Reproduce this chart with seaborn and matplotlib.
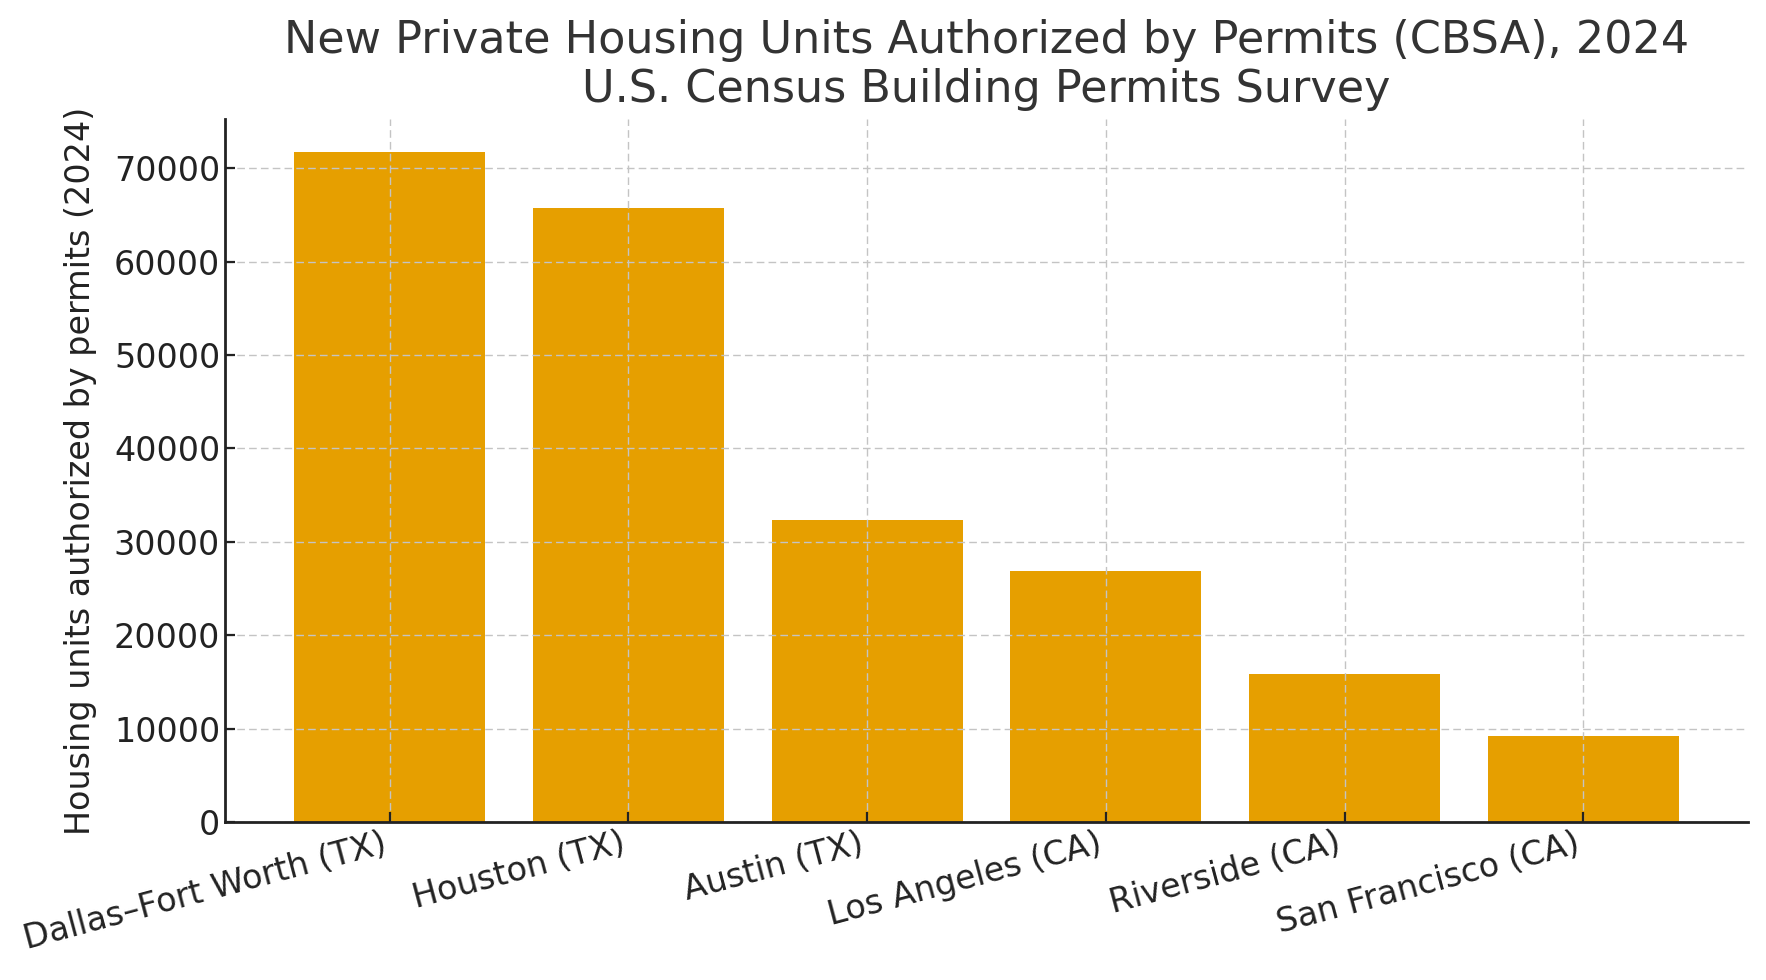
import matplotlib
matplotlib.use("Agg")
import matplotlib.pyplot as plt
import seaborn as sns
import pandas as pd

# 2024 building permits by metro area (CBSA)
metros = ["Dallas–Fort Worth (TX)", "Houston (TX)", "Austin (TX)",
          "Los Angeles (CA)", "Riverside (CA)", "San Francisco (CA)"]
units = [71700, 65700, 32300, 26900, 15900, 9200]

df = pd.DataFrame({"metro": metros, "units": units})

plt.rcParams["font.family"] = ["DejaVu Sans"]
plt.rcParams["axes.axisbelow"] = "line"

fig = plt.figure(figsize=(17.66, 9.8), dpi=100)
ax = fig.add_axes([0.1274, 0.1612, 0.8624, 0.7174])

sns.barplot(data=df, x="metro", y="units", color="#E69F00", saturation=1,
            width=0.8, ax=ax)

# matplotlib-like margins instead of seaborn's categorical limits
n = len(metros)
pad = 0.05 * (n - 1 + 0.8)
ax.set_xlim(-0.4 - pad, n - 1 + 0.4 + pad)
ax.set_ylim(0, max(units) * 1.05)

ax.grid(True, linestyle=(0, (5.5, 3)), linewidth=1.0, color="#c4c4c4")
for s in ["top", "right"]:
    ax.spines[s].set_visible(False)
for s in ["left", "bottom"]:
    ax.spines[s].set_linewidth(2.0)
    ax.spines[s].set_color("#222222")

ax.tick_params(direction="in", length=7, width=1.6, colors="#222222",
               labelsize=24)
ax.set_xlabel("")
ax.set_ylabel("Housing units authorized by permits (2024)", fontsize=24,
              color="#222222", labelpad=12)
plt.setp(ax.get_xticklabels(), rotation=15, ha="right")

ax.set_title("New Private Housing Units Authorized by Permits (CBSA), 2024\n"
             "U.S. Census Building Permits Survey", fontsize=32, color="#333333",
             pad=12)

fig.savefig("out.png", dpi=100)
